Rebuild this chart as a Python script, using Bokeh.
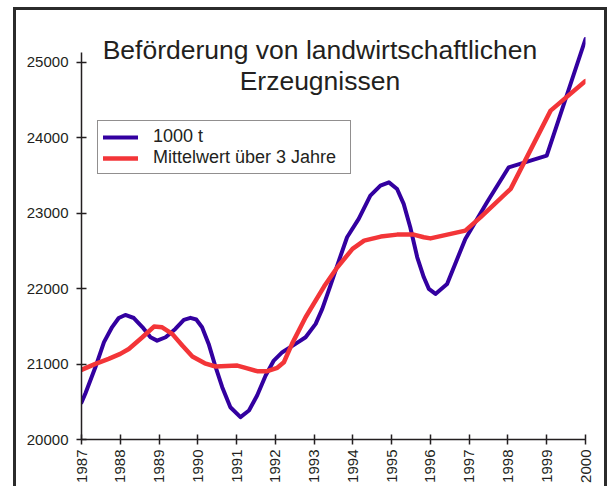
from bokeh.plotting import figure
from bokeh.models import Range1d, FixedTicker, Label, Legend, LegendItem
from bokeh.embed import file_html
from bokeh.resources import INLINE
import math

title_lines = ["Beförderung von landwirtschaftlichen", "Erzeugnissen"]
years = list(range(1987, 2001))
y_ticks = [20000, 21000, 22000, 23000, 24000, 25000]

series_names = ["1000 t", "Mittelwert über 3 Jahre"]

t_x = [1987.0, 1987.1, 1987.36, 1987.58, 1987.79, 1987.96, 1988.13, 1988.35, 1988.57,
       1988.78, 1988.95, 1989.17, 1989.42, 1989.64, 1989.81, 1989.96, 1990.11, 1990.28,
       1990.46, 1990.63, 1990.84, 1991.1, 1991.32, 1991.53, 1991.75, 1991.96, 1992.18,
       1992.52, 1992.78, 1993.04, 1993.21, 1993.42, 1993.64, 1993.85, 1994.15, 1994.45,
       1994.71, 1994.93, 1995.14, 1995.31, 1995.48, 1995.66, 1995.83, 1995.96, 1996.13,
       1996.43, 1996.9, 1997.46, 1998.02, 1999.0, 2000.0]
t_y = [20490, 20610, 20960, 21290, 21490, 21610, 21650, 21610, 21490,
       21355, 21310, 21355, 21465, 21585, 21612, 21590, 21487, 21267,
       20958, 20693, 20428, 20296, 20384, 20583, 20848, 21046, 21157,
       21267, 21355, 21532, 21731, 22040, 22371, 22680, 22923, 23232,
       23364, 23408, 23320, 23122, 22812, 22415, 22150, 21996, 21929,
       22062, 22658, 23143, 23607, 23762, 25307]

m_x = [1987.0, 1987.36, 1987.7, 1988.0, 1988.22, 1988.57, 1988.87, 1989.08, 1989.34,
       1989.6, 1989.86, 1990.18, 1990.46, 1991.02, 1991.23, 1991.53, 1991.79, 1992.05,
       1992.22, 1992.43, 1992.78, 1993.26, 1993.6, 1993.99, 1994.29, 1994.72, 1995.14,
       1995.57, 1995.83, 1996.0, 1996.9, 1997.29, 1998.07, 1999.1, 2000.0]
m_y = [20923, 21003, 21069, 21135, 21200, 21355, 21497, 21487, 21400,
       21245, 21100, 21010, 20967, 20980, 20950, 20905, 20905, 20950,
       21024, 21267, 21620, 22030, 22282, 22526, 22636, 22689, 22715,
       22715, 22680, 22665, 22768, 22944, 23321, 24358, 24750]

FONT = "Liberation Sans"
INK = "#231f20"

p = figure(width=594, height=479, output_backend="svg", toolbar_location=None,
           x_range=Range1d(1987, 2000), y_range=Range1d(20000, 25420),
           min_border_left=68, min_border_right=22, min_border_top=23, min_border_bottom=47,
           margin=(7, 0, 0, 13),
           styles={"box-shadow": "inset 3px 3px 0 0 #2b2b2b, inset -3px 0 0 0 #2b2b2b",
                   "background-color": "white"})
p.outline_line_color = None
p.xgrid.visible = False
p.ygrid.visible = False
p.background_fill_color = "white"
p.border_fill_color = None

for ax in (p.xaxis[0], p.yaxis[0]):
    ax.axis_line_color = INK
    ax.axis_line_width = 1.5
    ax.major_tick_line_color = INK
    ax.major_tick_line_width = 1.5
    ax.major_tick_in = 5
    ax.major_tick_out = 5
    ax.minor_tick_line_color = None
    ax.major_label_text_font = FONT
    ax.major_label_text_font_size = "15px"
    ax.major_label_text_color = INK

p.xaxis[0].ticker = FixedTicker(ticks=years)
p.xaxis[0].major_label_overrides = {y: str(y) for y in years}
p.xaxis[0].major_label_orientation = math.pi / 2
p.xaxis[0].major_label_standoff = 5
p.yaxis[0].ticker = FixedTicker(ticks=y_ticks)
p.yaxis[0].major_label_overrides = {v: str(v) for v in y_ticks}
p.yaxis[0].major_label_standoff = 8
p.yaxis[0].bounds = (20000, 25130)

r1 = p.line(t_x, t_y, line_color="#3300a0", line_width=4, line_join="round", line_cap="round")
r2 = p.line(m_x, m_y, line_color="#f33538", line_width=4.5, line_join="round", line_cap="round")

legend = Legend(items=[LegendItem(label=series_names[0], renderers=[r1]),
                       LegendItem(label=series_names[1], renderers=[r2])],
                location=(16, 265), orientation="vertical",
                label_text_font=FONT, label_text_font_size="18px", label_text_color=INK,
                glyph_width=35, glyph_height=20, label_height=20, label_width=192,
                label_standoff=15, padding=5, spacing=0, margin=0,
                border_line_color=INK, border_line_width=1, background_fill_color="white",
                background_fill_alpha=1.0)
p.add_layout(legend, "center")

title_x = 1993.15
p.add_layout(Label(x=title_x, y=25168, text=title_lines[0], text_align="center",
                   text_baseline="alphabetic", text_font=FONT, text_font_size="26.5px",
                   text_color=INK))
p.add_layout(Label(x=title_x, y=24757, text=title_lines[1], text_align="center",
                   text_baseline="alphabetic", text_font=FONT, text_font_size="26.5px",
                   text_color=INK))

open("out.html", "w").write(file_html(p, INLINE))
